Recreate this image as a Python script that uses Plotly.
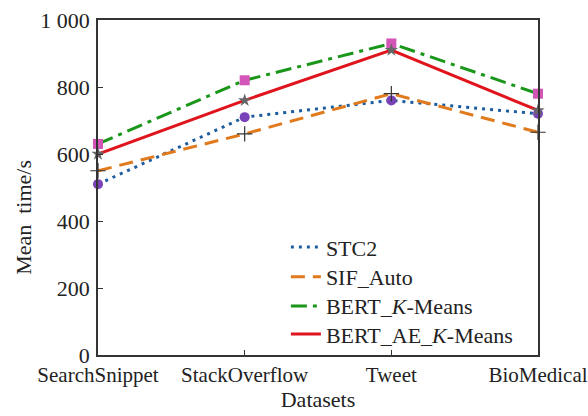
import plotly.graph_objects as go

categories = ["SearchSnippet", "StackOverflow", "Tweet", "BioMedical"]
stc2 = [510, 710, 760, 720]
sif_auto = [550, 660, 780, 665]
bert_kmeans = [630, 820, 930, 780]
bert_ae_kmeans = [600, 760, 910, 730]
y_ticks = [0, 200, 400, 600, 800, 1000]
y_tick_labels = ["0", "200", "400", "600", "800", "1 000"]

FONT = "Liberation Serif"
FS = 22

series = [
    ("STC2", stc2, dict(color="#1d5c9e", width=3, dash="3px,5px"),
     dict(symbol="circle", size=10, color="#7a42b8")),
    ("SIF_Auto", sif_auto, dict(color="#e07a1c", width=3, dash="14px,8px"),
     dict(symbol="cross-thin", size=11, line=dict(color="#333333", width=1.2))),
    ("BERT_<i>K</i>-Means", bert_kmeans, dict(color="#1a961a", width=3, dash="16px,6px,4px,6px"),
     dict(symbol="square", size=10, color="#d455b8")),
    ("BERT_AE_<i>K</i>-Means", bert_ae_kmeans, dict(color="#e0141c", width=3),
     dict(symbol="star", size=10, color="#666666")),
]
legend_ids = ["legend", "legend2", "legend3", "legend4"]
legend_rows = [0.322, 0.233, 0.146, 0.062]

fig = go.Figure()
for (name, vals, line, marker), lid in zip(series, legend_ids):
    fig.add_trace(go.Scatter(x=categories, y=vals, name=name, mode="lines",
                             line=line, showlegend=True, legend=lid, cliponaxis=False))
for name, vals, line, marker in series:
    fig.add_trace(go.Scatter(x=categories, y=vals, name=name, mode="markers",
                             marker=marker, showlegend=False, cliponaxis=False))

legend_layout = {}
for lid, ly in zip(legend_ids, legend_rows):
    legend_layout[lid] = dict(x=0.427, y=ly, xanchor="left", yanchor="middle",
                              bgcolor="rgba(0,0,0,0)", font=dict(family=FONT, size=FS),
                              itemwidth=30, borderwidth=0)

fig.update_layout(
    width=588, height=416,
    margin=dict(l=98, r=50, t=20, b=61),
    paper_bgcolor="white", plot_bgcolor="white",
    font=dict(family=FONT, size=FS, color="#222222"),
    showlegend=True,
    annotations=[dict(text="Mean  time/s", textangle=-90, xref="paper", yref="paper",
                      x=-0.17, y=0.41, xanchor="center", yanchor="middle",
                      showarrow=False, font=dict(family=FONT, size=FS, color="#222222"))],
    **legend_layout,
)
fig.update_xaxes(
    type="category", range=[0, 3], automargin=False,
    showline=True, linecolor="#333333", linewidth=1.5, mirror=True,
    ticks="inside", ticklen=5, tickcolor="#333333",
    showgrid=False, zeroline=False,
    ticklabeloverflow="allow",
    title=dict(text="Datasets", standoff=6, font=dict(family=FONT, size=FS)),
    tickfont=dict(family=FONT, size=21),
)
fig.update_yaxes(
    range=[0, 1000], automargin=False,
    tickvals=y_ticks, ticktext=y_tick_labels,
    showline=True, linecolor="#333333", linewidth=1.5, mirror=True,
    ticks="inside", ticklen=5, tickcolor="#333333",
    showgrid=False, zeroline=False,
    ticklabelstandoff=2, ticklabeloverflow="allow",
    tickfont=dict(family=FONT, size=FS),
)

fig.write_html("out.html", config={"displayModeBar": False},
               post_script="document.body.style.margin='0';document.body.style.overflow='hidden';")
